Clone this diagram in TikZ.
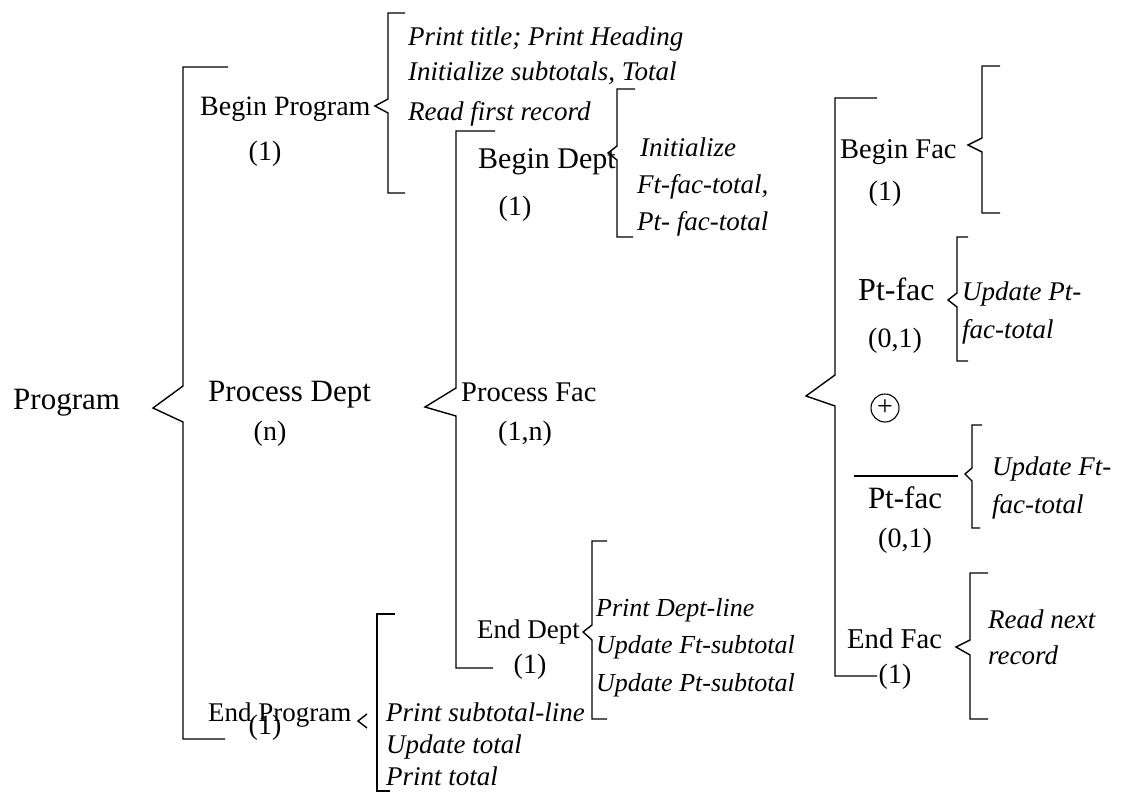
\documentclass[tikz,border=0pt]{standalone}
\usepackage{fontspec}
\setmainfont{Liberation Serif}
\begin{document}
\begin{tikzpicture}[x=1pt,y=-1pt,
  lab/.style={inner sep=0pt,anchor=base west},
  cen/.style={inner sep=0pt,anchor=base},
  fs/.style={font=\fontsize{#1}{#1}\selectfont},
  it/.style={inner sep=0pt,anchor=base west,font=\fontsize{#1}{#1}\selectfont\itshape},
  br/.style={line width=1.4pt,line join=miter}]
\useasboundingbox (0,0) rectangle (1130,792);
% level 0
\node[lab,fs=31] (prog) at (13,409) {Program};
\draw[br] (228,67) -- (183,67) -- (183,386) -- (153,408) -- (183,422) -- (183,739) -- (225,739);
% Begin Program
\node[lab,fs=28] (bprog) at (200,115) {Begin Program};
\node[cen,fs=28] (bprog1) at (265,160) {(1)};
\draw[br] (405,13) -- (388,13) -- (388,99) -- (375,106) -- (388,113) -- (388,193) -- (405,193);
\node[it=27] (bp1) at (408,46) {Print title; Print Heading};
\node[it=27] (bp2) at (408,81) {Initialize subtotals, Total};
\node[it=27] (bp3) at (408,121) {Read first record};
% Process Dept
\node[lab,fs=31] (pdept) at (208,401) {Process Dept};
\node[cen,fs=28] (pdeptn) at (270,440) {(n)};
\draw[br] (495,131) -- (456,131) -- (456,388) -- (425,407) -- (456,416) -- (456,668) -- (493,668);
% End Program
\node[lab,fs=27] (eprog) at (208,721) {End Program};
\node[cen,fs=28] (eprog1) at (265,734) {(1)};
\draw[br] (367,714) -- (358,721) -- (367,728);
\draw[br] (395,614) -- (377,614) -- (377,791) -- (390,791);
\node[it=27] (ep1) at (386,721) {Print subtotal-line};
\node[it=27] (ep2) at (386,753) {Update total};
\node[it=27] (ep3) at (386,785) {Print total};
% Begin Dept
\node[lab,fs=30] (bdept) at (478,168) {Begin Dept};
\node[cen,fs=28] (bdept1) at (515,215) {(1)};
\draw[br] (635,89) -- (617,89) -- (617,146) -- (608,153) -- (617,160) -- (617,237) -- (633,237);
\node[it=27] (bd1) at (640,156) {Initialize};
\node[it=27] (bd2) at (637,193) {Ft-fac-total,};
\node[it=27] (bd3) at (637,230) {Pt- fac-total};
% Process Fac
\node[lab,fs=28.5] (pfac) at (461,401) {Process Fac};
\node[cen,fs=28] (pfacn) at (525,440) {(1,n)};
\draw[br] (877,98) -- (835,98) -- (835,375) -- (806,396) -- (835,406) -- (835,676) -- (877,676);
% End Dept
\node[lab,fs=27] (edept) at (477,638) {End Dept};
\node[cen,fs=28] (edept1) at (530,673) {(1)};
\draw[br] (607,541) -- (592,541) -- (592,625) -- (583,632) -- (592,640) -- (592,719) -- (607,719);
\node[it=26] (ed1) at (596,616) {Print Dept-line};
\node[it=26] (ed2) at (596,653) {Update Ft-subtotal};
\node[it=26] (ed3) at (596,691) {Update Pt-subtotal};
% Begin Fac
\node[lab,fs=28.5] (bfac) at (840,158) {Begin Fac};
\node[cen,fs=28] (bfac1) at (885,200) {(1)};
\draw[br] (1000,66) -- (982,66) -- (982,138) -- (968,145) -- (982,152) -- (982,213) -- (1000,213);
% Pt-fac
\node[lab,fs=32] (ptfac) at (858,300) {Pt-fac};
\node[cen,fs=28] (ptfac1) at (895,347) {(0,1)};
\draw[br] (968,237) -- (957,237) -- (957,293) -- (948,300) -- (957,307) -- (957,361) -- (968,361);
\node[it=27] (pf1) at (962,300) {Update Pt-};
\node[it=27] (pf2) at (962,338) {fac-total};
% selection
\node[draw,circle,line width=1.1pt,minimum size=28pt,inner sep=0pt,fs=28] (sel) at (885,408) {+};
% not Pt-fac
\node[cen,fs=31] (nptfac) at (905,508) {Pt-fac};
\draw[line width=1.4pt] (854,476) -- (958,476);
\node[cen,fs=28] (nptfac1) at (905,547) {(0,1)};
\draw[br] (982,425) -- (972,425) -- (972,468) -- (965,474) -- (972,481) -- (972,528) -- (980,528);
\node[it=27] (ff1) at (992,475) {Update Ft-};
\node[it=27] (ff2) at (992,513) {fac-total};
% End Fac
\node[lab,fs=28.7] (efac) at (847,648) {End Fac};
\node[cen,fs=28] (efac1) at (895,683) {(1)};
\draw[br] (988,573) -- (970,573) -- (970,640) -- (956,647) -- (970,655) -- (970,719) -- (988,719);
\node[it=27] (ef1) at (988,628) {Read next};
\node[it=27] (ef2) at (988,664) {record};
\end{tikzpicture}
\end{document}
